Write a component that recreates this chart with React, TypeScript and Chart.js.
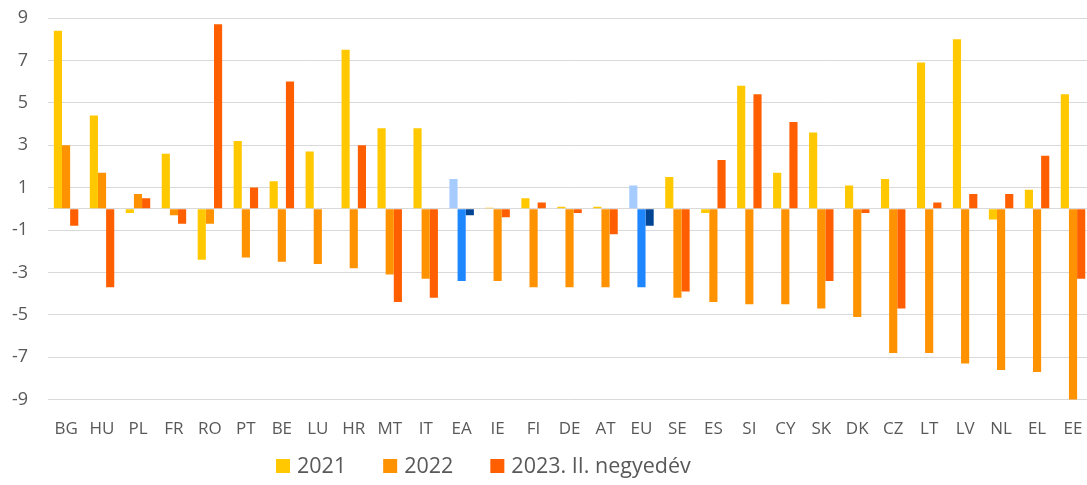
import React, { useEffect, useRef } from "react";
import { Chart, registerables } from "chart.js";

Chart.register(...registerables);

const categories = ["BG", "HU", "PL", "FR", "RO", "PT", "BE", "LU", "HR", "MT", "IT", "EA", "IE", "FI", "DE", "AT", "EU", "SE", "ES", "SI", "CY", "SK", "DK", "CZ", "LT", "LV", "NL", "EL", "EE"];
const aggregates = ["EA", "EU"];

const values2021 = [8.4, 4.4, -0.2, 2.6, -2.4, 3.2, 1.3, 2.7, 7.5, 3.8, 3.8, 1.4, 0.05, 0.5, 0.1, 0.1, 1.1, 1.5, -0.2, 5.8, 1.7, 3.6, 1.1, 1.4, 6.9, 8.0, -0.5, 0.9, 5.4];
const values2022 = [3.0, 1.7, 0.7, -0.3, -0.7, -2.3, -2.5, -2.6, -2.8, -3.1, -3.3, -3.4, -3.4, -3.7, -3.7, -3.7, -3.7, -4.2, -4.4, -4.5, -4.5, -4.7, -5.1, -6.8, -6.8, -7.3, -7.6, -7.7, -9.1];
const values2023 = [-0.8, -3.7, 0.5, -0.7, 8.7, 1.0, 6.0, null, 3.0, -4.4, -4.2, -0.3, -0.4, 0.3, -0.2, -1.2, -0.8, -3.9, 2.3, 5.4, 4.1, -3.4, -0.2, -4.7, 0.3, 0.7, 0.7, 2.5, -3.3];

const seriesLabels = ["2021", "2022", "2023. II. negyedév"];
const seriesColors = ["#FFC800", "#FF9200", "#FF5F00"];
const aggregateColors = ["#A6CCFF", "#1E86FF", "#004494"];

const yTicks = [-9, -7, -5, -3, -1, 0, 1, 3, 5, 7, 9];

const FONT = "'Open Sans', 'DejaVu Sans', sans-serif";
const TEXT = "#595959";

const legendPlugin = {
  id: "customLegend",
  afterDraw(chart: any) {
    const ctx = chart.ctx;
    ctx.save();
    ctx.font = `21.5px ${FONT}`;
    ctx.textBaseline = "middle";
    ctx.textAlign = "left";
    let x = 276;
    const y = 466;
    chart.data.datasets.forEach((ds: any) => {
      ctx.fillStyle = ds.legendColor;
      ctx.fillRect(x, y - 7, 14, 14);
      ctx.fillStyle = TEXT;
      ctx.fillText(ds.label, x + 21, y + 1);
      x += 21 + ctx.measureText(ds.label).width + 37;
    });
    ctx.restore();
  },
};

export default function App() {
  const ref = useRef<HTMLCanvasElement>(null);
  useEffect(() => {
    const series = [values2021, values2022, values2023];
    const chart = new Chart(ref.current!, {
      type: "bar",
      data: {
        labels: categories,
        datasets: series.map((vals, i) => ({
          label: seriesLabels[i],
          data: vals,
          legendColor: seriesColors[i],
          backgroundColor: categories.map((c) => (aggregates.includes(c) ? aggregateColors[i] : seriesColors[i])),
          borderWidth: 0,
          categoryPercentage: 0.68,
          barPercentage: 1.0,
        })) as any,
      },
      options: {
        animation: false,
        responsive: true,
        maintainAspectRatio: false,
        layout: { padding: { left: 12, top: 18, right: 0, bottom: 46 } },
        plugins: { legend: { display: false }, tooltip: { enabled: false } },
        scales: {
          x: {
            grid: { display: true, drawOnChartArea: false, drawTicks: true, tickLength: 19, tickColor: "rgba(0,0,0,0)" },
            border: { display: false },
            ticks: { color: TEXT, font: { family: FONT, size: 17 }, padding: 0, maxRotation: 0, autoSkip: false },
          },
          y: {
            min: -9,
            max: 9,
            afterBuildTicks: (axis: any) => {
              axis.ticks = yTicks.map((v) => ({ value: v }));
            },
            grid: { color: "#D9D9D9", lineWidth: 1, drawTicks: true, tickLength: 20, tickColor: "rgba(0,0,0,0)" },
            border: { display: false },
            ticks: {
              color: TEXT,
              font: { family: FONT, size: 18 },
              padding: 0,
              autoSkip: false,
              callback: (v: any) => (v === 0 ? "" : String(v)),
            },
          },
        },
      },
      plugins: [legendPlugin],
    });
    return () => chart.destroy();
  }, []);
  return (
    <div style={{ position: "fixed", left: 0, top: 0, width: 1087, height: 485, overflow: "hidden", background: "#fff" }}>
      <div style={{ position: "absolute", left: 0, top: 0, width: 1091, height: 485 }}>
        <canvas ref={ref} />
      </div>
    </div>
  );
}
